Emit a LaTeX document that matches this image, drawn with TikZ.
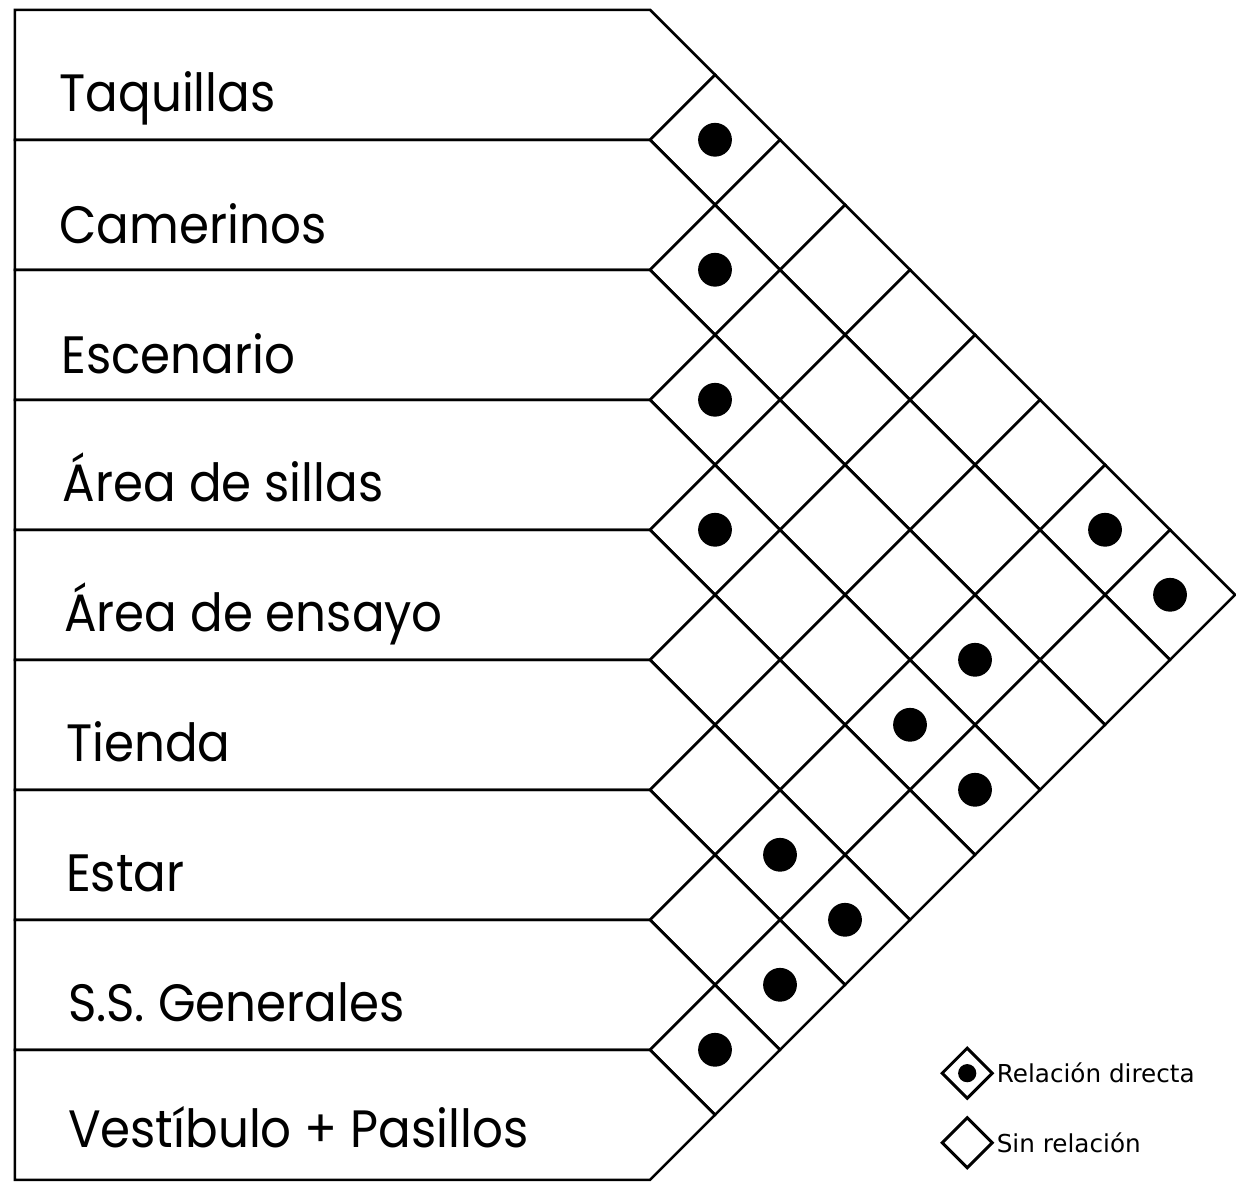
\documentclass[tikz,border=0pt]{standalone}
\usepackage{fontspec}
\setmainfont{Poppins}
\newfontfamily\lblfam{Poppins}[FakeStretch=0.92]
\newfontfamily\legfont{DejaVu Sans}
\usetikzlibrary{positioning,shapes.geometric}
\newcommand{\lblf}{\lblfam\fontsize{23}{27}\selectfont}
\newcommand{\legf}{\legfont\fontsize{10.8}{13}\selectfont}

\begin{document}
\begin{tikzpicture}[
  line width=1pt,
  rowln/.style={line width=1.1pt, draw=black, line join=miter},
  lbl/.style={anchor=base west, font=\lblf, inner sep=0pt},
  cell/.style={diamond, draw=black, line width=1.1pt, minimum width=2cm, minimum height=2cm, inner sep=0pt, outer sep=0pt},
  dot/.style={circle, fill=black, minimum size=5.2mm, inner sep=0pt},
  legcell/.style={cell, line width=1.3pt, minimum width=7.7mm, minimum height=7.7mm},
  legdot/.style={dot, minimum size=2.8mm},
  legtxt/.style={anchor=west, font=\legf, inner sep=1.5pt},
]
\useasboundingbox (0,0) rectangle (19.015,-18.2);

% ---------------- rows ----------------
\draw[rowln] (0.23,-0.15) -- (10,-0.15) -- (11,-1.15) -- (10,-2.15) -- (0.23,-2.15) -- cycle;
\node[lbl] (taq) at (0.9,-1.72) {Taquillas};
\draw[rowln] (0.23,-2.15) -- (10,-2.15) -- (11,-3.15) -- (10,-4.15) -- (0.23,-4.15) -- cycle;
\node[lbl] (cam) at (0.9,-3.74) {Camerinos};
\draw[rowln] (0.23,-4.15) -- (10,-4.15) -- (11,-5.15) -- (10,-6.15) -- (0.23,-6.15) -- cycle;
\node[lbl] (esc) at (0.93,-5.74) {Escenario};
\draw[rowln] (0.23,-6.15) -- (10,-6.15) -- (11,-7.15) -- (10,-8.15) -- (0.23,-8.15) -- cycle;
\node[lbl] (sil) at (0.95,-7.72) {Área de sillas};
\draw[rowln] (0.23,-8.15) -- (10,-8.15) -- (11,-9.15) -- (10,-10.15) -- (0.23,-10.15) -- cycle;
\node[lbl] (ens) at (0.97,-9.72) {Área de ensayo};
\draw[rowln] (0.23,-10.15) -- (10,-10.15) -- (11,-11.15) -- (10,-12.15) -- (0.23,-12.15) -- cycle;
\node[lbl] (tie) at (1.0,-11.72) {Tienda};
\draw[rowln] (0.23,-12.15) -- (10,-12.15) -- (11,-13.15) -- (10,-14.15) -- (0.23,-14.15) -- cycle;
\node[lbl] (est) at (1.0,-13.72) {Estar};
\draw[rowln] (0.23,-14.15) -- (10,-14.15) -- (11,-15.15) -- (10,-16.15) -- (0.23,-16.15) -- cycle;
\node[lbl] (ssg) at (1.03,-15.72) {S.S. Generales};
\draw[rowln] (0.23,-16.15) -- (10,-16.15) -- (11,-17.15) -- (10,-18.15) -- (0.23,-18.15) -- cycle;
\node[lbl] (ves) at (1.03,-17.66) {Vestíbulo + Pasillos};

% ---------------- relation cells c-i-j between row i and row j ----------------
\foreach \i in {0,...,7} {
  \pgfmathtruncatemacro\jfirst{\i+1}
  \foreach \j in {\jfirst,...,8}
    \node[cell] (c-\i-\j) at ({10+\j-\i},{-0.15-\i-\j-1}) {};
}
% direct relations
\foreach \i/\j in {0/1,1/2,2/3,3/4,0/7,0/8,2/7,3/7,3/8,5/7,5/8,6/8,7/8}
  \node[dot] (d-\i-\j) at (c-\i-\j) {};

% ---------------- legend ----------------
\node[legcell] (legd) at (14.88,-16.51) {};
\node[legdot] (legdd) at (legd) {};
\node[legtxt, right=0pt of legd] (legdt) {Relación directa};
\node[legcell] (legs) at (14.88,-17.58) {};
\node[legtxt, right=0pt of legs] (legst) {Sin relación};
\end{tikzpicture}
\end{document}
